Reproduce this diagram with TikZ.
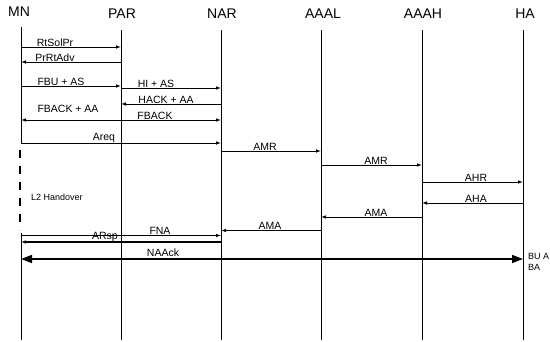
\documentclass[tikz,border=0pt]{standalone}
\usepackage{fontspec}
\setmainfont{Liberation Sans}
\usetikzlibrary{arrows.meta}
\begin{document}
\begin{tikzpicture}[x=1pt,y=-1pt,
  life/.style={line width=0.8pt},
  msg/.style={line width=0.9pt,-{Latex[length=5pt,width=3.6pt]}},
  lbl/.style={font=\fontsize{10.5}{11}\selectfont, anchor=south, inner sep=0.5pt},
  head/.style={font=\fontsize{14}{15}\selectfont, anchor=base, inner sep=0pt}]
\useasboundingbox (0,0) rectangle (550,342);
% headers
\node[head] (hMN) at (19,17) {MN};
\node[head] (hPAR) at (122,19) {PAR};
\node[head] (hNAR) at (222,19) {NAR};
\node[head] (hAAAL) at (323,19) {AAAL};
\node[head] (hAAAH) at (423,19) {AAAH};
\node[head] (hHA) at (525,19) {HA};
% lifelines
\coordinate (MN) at (21,27);
\coordinate (PAR) at (121,30);
\coordinate (NAR) at (221,30);
\coordinate (AAAL) at (321,30);
\coordinate (AAAH) at (422,30);
\coordinate (HA) at (523,30);
\coordinate (MNa) at (21,144);
\coordinate (MNb) at (21,233);
\coordinate (MNe) at (21,340);
\draw[life] (MN) -- (MNa);
\draw[life] (MNb) -- (MNe);
\draw[line width=2.6pt, dash pattern=on 8pt off 8pt] (20,150) -- (20,230);
\foreach \n in {PAR,NAR,AAAL,AAAH,HA}{
  \draw[life] (\n) -- (\n |- 0,340);
}
% messages
\draw[msg] (MN |- 0,47) -- (PAR |- 0,47);
\node[lbl] (l1) at (55,47) {RtSolPr};
\draw[msg] (PAR |- 0,62) -- (MN |- 0,62);
\node[lbl] (l2) at (55,62) {PrRtAdv};
\draw[msg] (MN |- 0,86) -- (PAR |- 0,86);
\node[lbl] (l3) at (61,86) {FBU + AS};
\draw[msg] (PAR |- 0,88) -- (NAR |- 0,88);
\node[lbl] (l4) at (156,88) {HI + AS};
\draw[msg] (NAR |- 0,104) -- (PAR |- 0,104);
\node[lbl] (l5) at (166,104) {HACK + AA};
\draw[msg,{Latex[length=5pt,width=3.6pt]}-{Latex[length=5pt,width=3.6pt]}] (MN |- 0,120) -- (NAR |- 0,120);
\node[lbl] (l6) at (68,113) {FBACK + AA};
\node[lbl] (l7) at (155,120) {FBACK};
\draw[msg] (MN |- 0,143) -- (NAR |- 0,143);
\node[lbl] (l8) at (104,143) {Areq};
\draw[msg] (NAR |- 0,151) -- (AAAL |- 0,151);
\node[lbl] (l9) at (265,151) {AMR};
\draw[msg] (AAAL |- 0,165) -- (AAAH |- 0,165);
\node[lbl] (l10) at (376,165) {AMR};
\draw[msg] (AAAH |- 0,182) -- (HA |- 0,182);
\node[lbl] (l11) at (476,182) {AHR};
\draw[msg] (HA |- 0,203) -- (AAAH |- 0,203);
\node[lbl] (l12) at (476,203) {AHA};
\draw[msg] (AAAH |- 0,217) -- (AAAL |- 0,217);
\node[lbl] (l13) at (376,217) {AMA};
\draw[msg] (AAAL |- 0,230.5) -- (NAR |- 0,230.5);
\node[lbl] (l14) at (270,230.5) {AMA};
\draw[msg] (MN |- 0,235.5) -- (NAR |- 0,235.5);
\node[lbl] (l15) at (160,235.5) {FNA};
\draw[msg,line width=1.1pt] (NAR |- 0,242) -- (MN |- 0,242);
\node[lbl] (l16) at (105,242) {ARsp};
\draw[line width=1.6pt,{Triangle[length=11pt,width=8pt]}-{Triangle[length=11pt,width=8pt]}] (MN |- 0,259) -- (HA |- 0,259);
\node[lbl] (l17) at (163,257) {NAAck};
\node[font=\fontsize{9}{11}\selectfont, anchor=north west, inner sep=0pt, align=left] (bu) at (528,253) {BU A\\BA};
\node[font=\fontsize{9}{10}\selectfont, anchor=west, inner sep=0pt] (l2h) at (31,197) {L2 Handover};
\end{tikzpicture}
\end{document}
